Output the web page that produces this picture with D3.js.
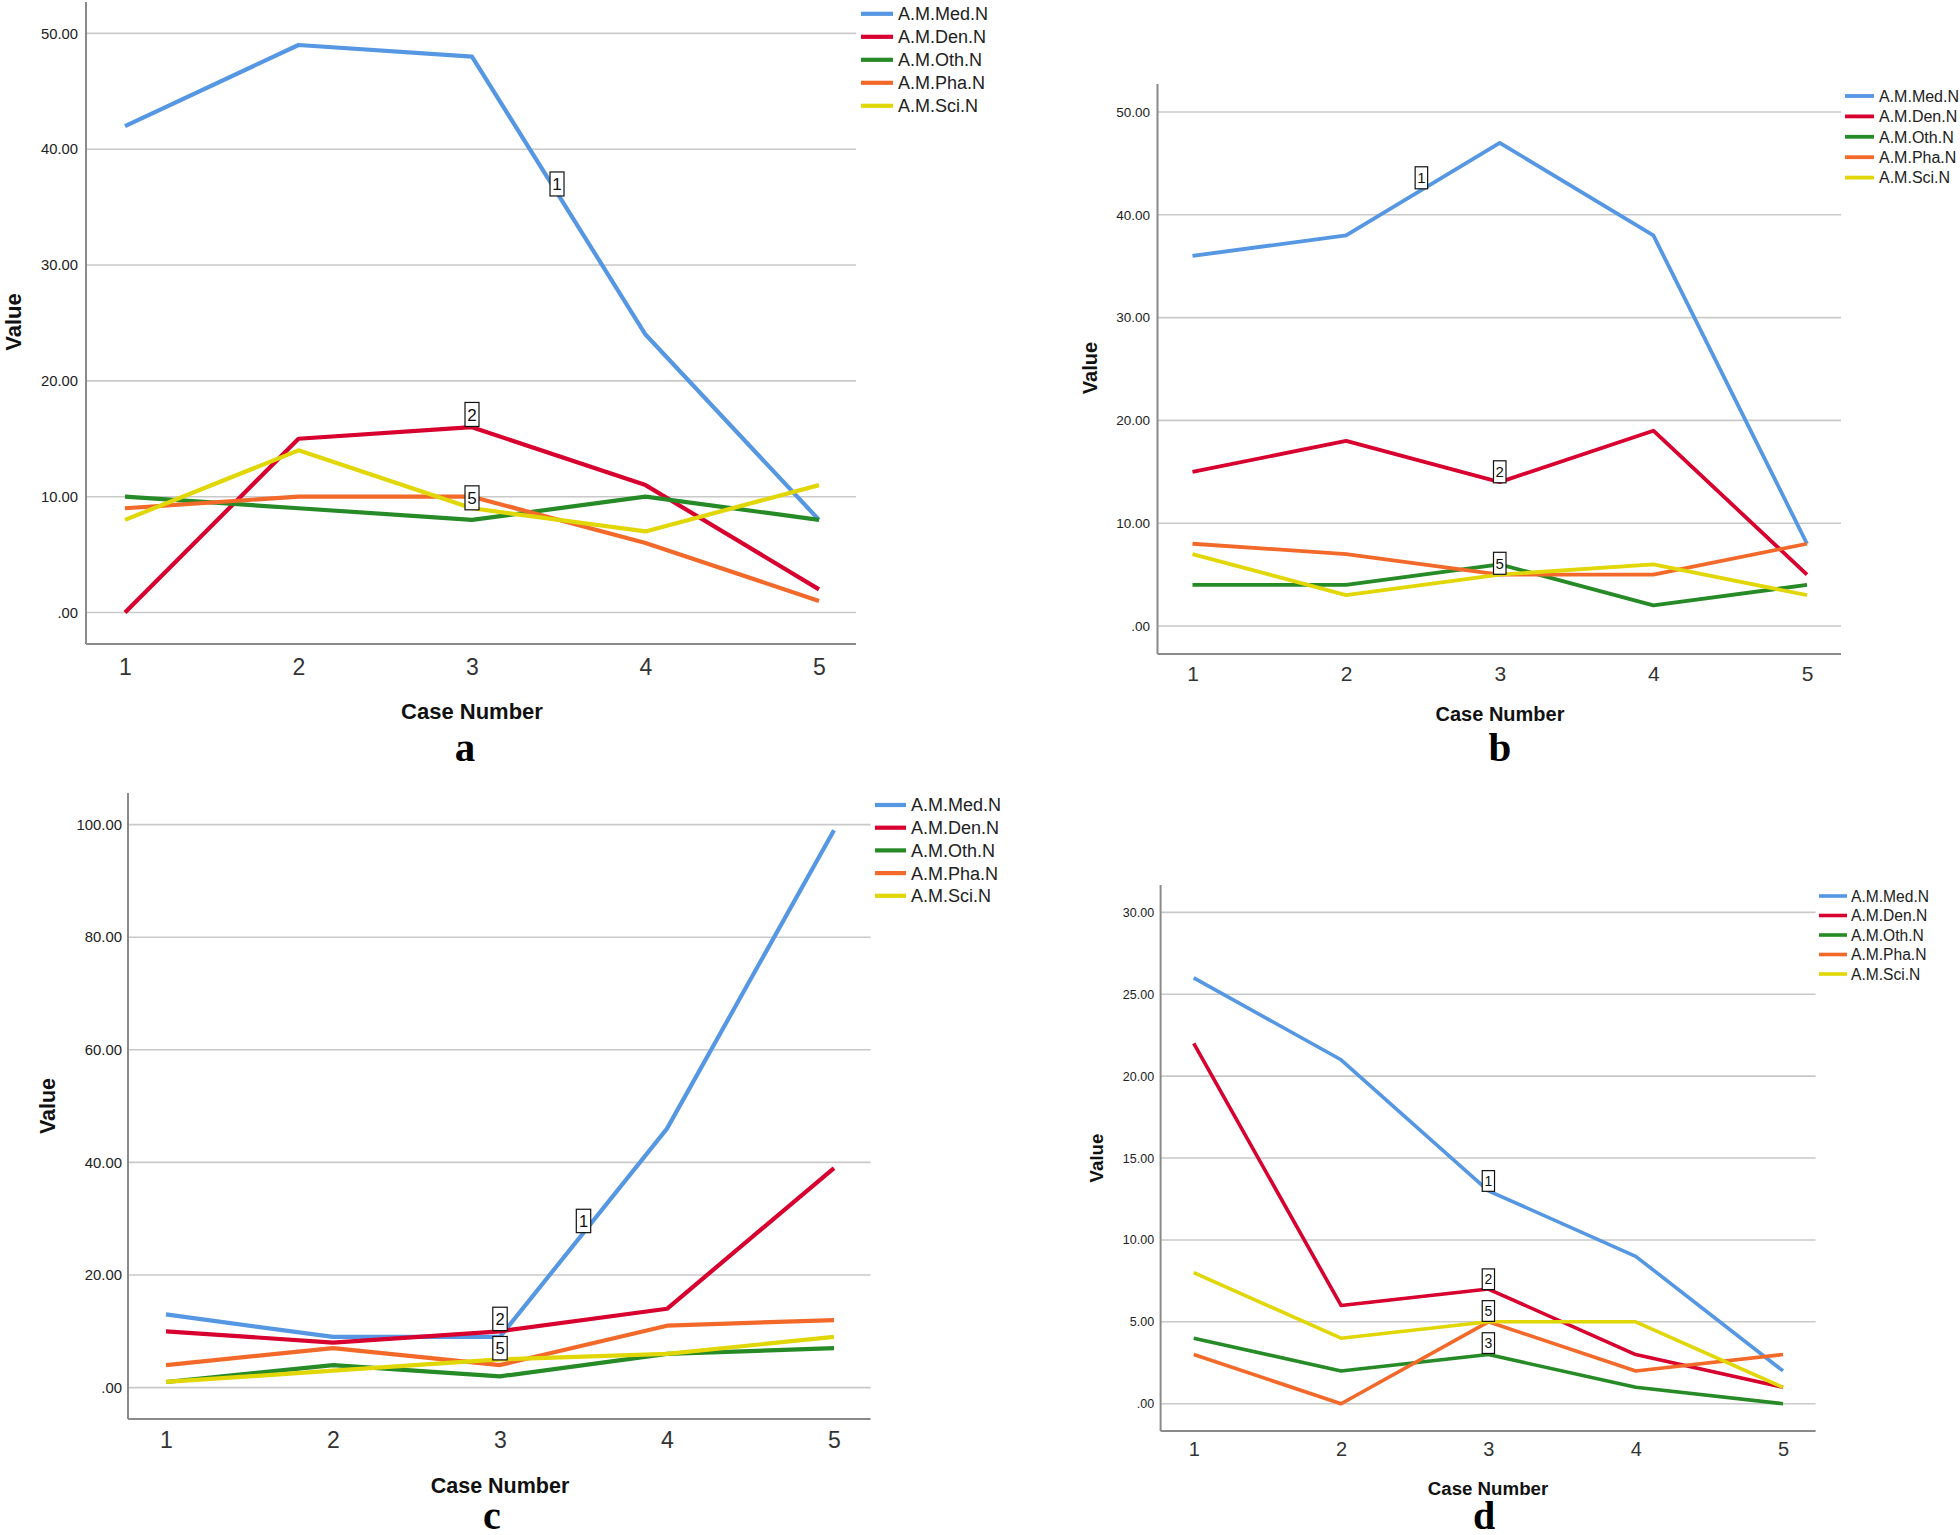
<!DOCTYPE html>
<html>
<head>
<meta charset="utf-8">
<script src="https://cdn.jsdelivr.net/npm/d3@7/dist/d3.min.js"></script>
<style>
  html, body { margin: 0; padding: 0; background: #fff; }
  svg { display: block; }
</style>
</head>
<body>
<svg id="chart" width="1960" height="1535"></svg>
<script>
// ---------------- DATA ----------------
const cases = [1, 2, 3, 4, 5];
const seriesNames = ["A.M.Med.N", "A.M.Den.N", "A.M.Oth.N", "A.M.Pha.N", "A.M.Sci.N"];

// Panel a
const aMed = [42, 49, 48, 24, 8];
const aDen = [0, 15, 16, 11, 2];
const aOth = [10, 9, 8, 10, 8];
const aPha = [9, 10, 10, 6, 1];
const aSci = [8, 14, 9, 7, 11];
const aTickValues = [0, 10, 20, 30, 40, 50];
const aTickLabels = [".00", "10.00", "20.00", "30.00", "40.00", "50.00"];
const aPointLabels = [{ t: "1", c: 3.49, v: 37 }, { t: "2", c: 3, v: 17.1 }, { t: "5", c: 3, v: 9.9 }];

// Panel b
const bMed = [36, 38, 47, 38, 8];
const bDen = [15, 18, 14, 19, 5];
const bOth = [4, 4, 6, 2, 4];
const bPha = [8, 7, 5, 5, 8];
const bSci = [7, 3, 5, 6, 3];
const bTickValues = [0, 10, 20, 30, 40, 50];
const bTickLabels = [".00", "10.00", "20.00", "30.00", "40.00", "50.00"];
const bPointLabels = [{ t: "1", c: 2.49, v: 43.6 }, { t: "2", c: 3, v: 15.0 }, { t: "5", c: 3, v: 6.1 }];

// Panel c
const cMed = [13, 9, 9, 46, 99];
const cDen = [10, 8, 10, 14, 39];
const cOth = [1, 4, 2, 6, 7];
const cPha = [4, 7, 4, 11, 12];
const cSci = [1, 3, 5, 6, 9];
const cTickValues = [0, 20, 40, 60, 80, 100];
const cTickLabels = [".00", "20.00", "40.00", "60.00", "80.00", "100.00"];
const cPointLabels = [{ t: "1", c: 3.5, v: 29.6 }, { t: "2", c: 3, v: 12.2 }, { t: "5", c: 3, v: 7.0 }];

// Panel d
const dMed = [26, 21, 13, 9, 2];
const dDen = [22, 6, 7, 3, 1];
const dOth = [4, 2, 3, 1, 0];
const dPha = [3, 0, 5, 2, 3];
const dSci = [8, 4, 5, 5, 1];
const dTickValues = [0, 5, 10, 15, 20, 25, 30];
const dTickLabels = [".00", "5.00", "10.00", "15.00", "20.00", "25.00", "30.00"];
const dPointLabels = [{ t: "1", c: 3, v: 13.6 }, { t: "2", c: 3, v: 7.6 }, { t: "5", c: 3, v: 5.66 }, { t: "3", c: 3, v: 3.7 }];

const panelLetters = ["a", "b", "c", "d"];

// ---------------- STYLE ----------------
const colors = ["#5597E2", "#D7002F", "#268A26", "#F2692A", "#E1D606"];
const sansFont = "'Liberation Sans', Arial, sans-serif";
const serifFont = "'Liberation Serif', 'Times New Roman', serif";

// ---------------- LAYOUT (pixels) ----------------
const panels = [
  { letter: panelLetters[0], series: [aMed, aDen, aOth, aPha, aSci], ticks: aTickValues, tickLabels: aTickLabels, pts: aPointLabels,
    axisX: 86, axisTop: 2, axisBottom: 644, right: 856, y0: 612.5, yTop: 33.4,
    x1: 125, x5: 819, xTickBase: 675, xTickFont: 23, yTickFont: 14.8, yTickGap: 8,
    xTitleX: 472, xTitleBase: 719, titleFont: 22, valueX: 13, valueY: 322,
    letterX: 465, letterBase: 761, letterFont: 41,
    legLine: [861, 893], legText: 898, legY0: 13.8, legDy: 23, legFont: 18,
    box: { w: 14, h: 24, f: 17 }, lw: 4.2 },
  { letter: panelLetters[1], series: [bMed, bDen, bOth, bPha, bSci], ticks: bTickValues, tickLabels: bTickLabels, pts: bPointLabels,
    axisX: 1157.5, axisTop: 84, axisBottom: 654, right: 1841, y0: 626, yTop: 112,
    x1: 1192.5, x5: 1807, xTickBase: 681, xTickFont: 21, yTickFont: 13.5, yTickGap: 7.5,
    xTitleX: 1500, xTitleBase: 721, titleFont: 20, valueX: 1090, valueY: 368,
    letterX: 1500, letterBase: 761, letterFont: 41,
    legLine: [1845, 1874], legText: 1879, legY0: 96, legDy: 20.4, legFont: 16,
    box: { w: 12.5, h: 22, f: 15 }, lw: 3.8 },
  { letter: panelLetters[2], series: [cMed, cDen, cOth, cPha, cSci], ticks: cTickValues, tickLabels: cTickLabels, pts: cPointLabels,
    axisX: 128, axisTop: 793, axisBottom: 1419, right: 870.6, y0: 1387.6, yTop: 824.6,
    x1: 166, x5: 834, xTickBase: 1448, xTickFont: 23, yTickFont: 14.9, yTickGap: 6,
    xTitleX: 500, xTitleBase: 1493, titleFont: 21.5, valueX: 47, valueY: 1106,
    letterX: 492, letterBase: 1529, letterFont: 40,
    legLine: [875, 906], legText: 911, legY0: 805, legDy: 22.7, legFont: 18,
    box: { w: 14.4, h: 23.4, f: 16.5 }, lw: 4.2 },
  { letter: panelLetters[3], series: [dMed, dDen, dOth, dPha, dSci], ticks: dTickValues, tickLabels: dTickLabels, pts: dPointLabels,
    axisX: 1160.6, axisTop: 885, axisBottom: 1431, right: 1815.6, y0: 1403.7, yTop: 912.4,
    x1: 1193.75, x5: 1783, xTickBase: 1456, xTickFont: 20, yTickFont: 12.5, yTickGap: 6.5,
    xTitleX: 1488, xTitleBase: 1495, titleFont: 18.7, valueX: 1096, valueY: 1158,
    letterX: 1484, letterBase: 1529, letterFont: 40,
    legLine: [1819, 1847], legText: 1851, legY0: 896, legDy: 19.5, legFont: 15.6,
    box: { w: 12.3, h: 20.7, f: 14 }, lw: 3.6 }
];

const svg = d3.select("#chart");

panels.forEach(p => {
  const g = svg.append("g");
  const maxTick = p.ticks[p.ticks.length - 1];
  const y = d3.scaleLinear().domain([0, maxTick]).range([p.y0, p.yTop]);
  const x = d3.scaleLinear().domain([cases[0], cases[cases.length - 1]]).range([p.x1, p.x5]);

  // Gridlines
  g.append("g").selectAll("line").data(p.ticks).join("line")
    .attr("x1", p.axisX).attr("x2", p.right)
    .attr("y1", d => y(d)).attr("y2", d => y(d))
    .attr("stroke", "#c9c9c9").attr("stroke-width", 1.6);

  // Y axis (labels only)
  const yAxis = d3.axisLeft(y).tickValues(p.ticks)
    .tickFormat((d, i) => p.tickLabels[i]).tickSize(0).tickPadding(p.yTickGap);
  const ya = g.append("g").attr("transform", `translate(${p.axisX},0)`).call(yAxis);
  ya.select(".domain").remove();
  ya.selectAll("text").attr("font-family", sansFont).attr("font-size", p.yTickFont).attr("fill", "#222");

  // X axis labels
  const xAxis = d3.axisBottom(x).tickValues(cases).tickFormat(d3.format("d")).tickSize(0).tickPadding(0);
  const xa = g.append("g").attr("transform", `translate(0,${p.axisBottom})`).call(xAxis);
  xa.select(".domain").remove();
  xa.selectAll("text").attr("font-family", sansFont).attr("font-size", p.xTickFont)
    .attr("fill", "#333").attr("dy", null).attr("y", p.xTickBase - p.axisBottom);

  // Axis frame lines
  g.append("line").attr("x1", p.axisX).attr("x2", p.axisX).attr("y1", p.axisTop).attr("y2", p.axisBottom)
    .attr("stroke", "#8a8a8a").attr("stroke-width", 2);
  g.append("line").attr("x1", p.axisX).attr("x2", p.right).attr("y1", p.axisBottom).attr("y2", p.axisBottom)
    .attr("stroke", "#8a8a8a").attr("stroke-width", 2);

  // Series lines
  const line = d3.line().x((d, i) => x(cases[i])).y(d => y(d));
  g.append("g").selectAll("path").data(p.series).join("path")
    .attr("d", d => line(d))
    .attr("fill", "none")
    .attr("stroke", (d, i) => colors[i])
    .attr("stroke-width", p.lw)
    .attr("stroke-linejoin", "round")
    .attr("stroke-linecap", "butt");

  // Point labels (boxes)
  const lab = g.append("g").selectAll("g").data(p.pts).join("g")
    .attr("transform", d => `translate(${x(d.c)},${y(d.v)})`);
  lab.append("rect")
    .attr("x", -p.box.w / 2).attr("y", -p.box.h / 2)
    .attr("width", p.box.w).attr("height", p.box.h)
    .attr("fill", "#fff").attr("stroke", "#111").attr("stroke-width", 1.2);
  lab.append("text").text(d => d.t)
    .attr("text-anchor", "middle").attr("dy", "0.36em")
    .attr("font-family", sansFont).attr("font-size", p.box.f).attr("fill", "#111");

  // Axis titles
  g.append("text").text("Case Number")
    .attr("x", p.xTitleX).attr("y", p.xTitleBase)
    .attr("text-anchor", "middle").attr("font-family", sansFont)
    .attr("font-weight", "bold").attr("font-size", p.titleFont).attr("fill", "#111");
  g.append("text").text("Value")
    .attr("transform", `translate(${p.valueX},${p.valueY}) rotate(-90)`)
    .attr("text-anchor", "middle").attr("dy", "0.36em").attr("font-family", sansFont)
    .attr("font-weight", "bold").attr("font-size", p.titleFont).attr("fill", "#111");

  // Panel letter
  g.append("text").text(p.letter)
    .attr("x", p.letterX).attr("y", p.letterBase)
    .attr("text-anchor", "middle").attr("font-family", serifFont)
    .attr("font-weight", "bold").attr("font-size", p.letterFont).attr("fill", "#000");

  // Legend
  const leg = g.append("g").selectAll("g").data(seriesNames).join("g")
    .attr("transform", (d, i) => `translate(0,${p.legY0 + i * p.legDy})`);
  leg.append("line").attr("x1", p.legLine[0]).attr("x2", p.legLine[1])
    .attr("stroke", (d, i) => colors[i]).attr("stroke-width", p.lw);
  leg.append("text").text(d => d)
    .attr("x", p.legText).attr("dy", "0.36em")
    .attr("font-family", sansFont).attr("font-size", p.legFont).attr("fill", "#222");
});
</script>
</body>
</html>
